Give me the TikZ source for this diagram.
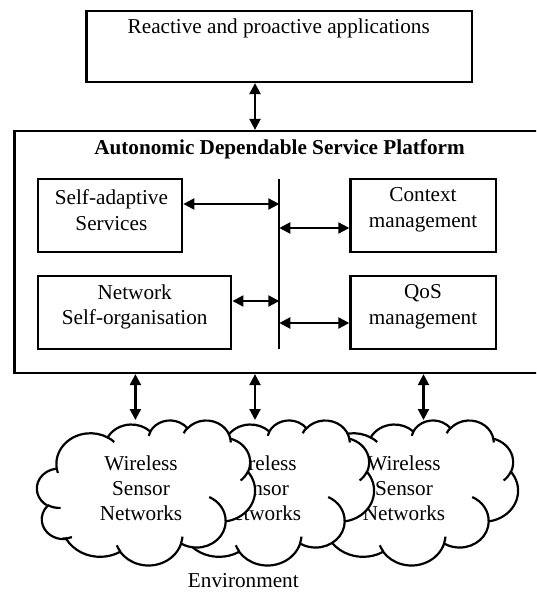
\documentclass[tikz,border=0pt]{standalone}
\usepackage{fontspec}
\setmainfont{Liberation Serif}
\usetikzlibrary{arrows.meta}
% OOXML-style arcs (visual angles) converted to TikZ parametric arcs
\newcommand{\defarc}[5]{%
  \pgfmathsetmacro\tmpS{atan2(#2*sin(#4), #3*cos(#4))}%
  \pgfmathsetmacro\tmpE{atan2(#2*sin(#4+#5), #3*cos(#4+#5))}%
  \pgfmathsetmacro\tmpD{mod(\tmpE-\tmpS+720,360)}%
  \edef\tmpdo{\noexpand\tikzset{#1/.style={start angle=\tmpS, delta angle=\tmpD, x radius=#2, y radius=#3}}}%
  \tmpdo}
\defarc{cAa}{6.753}{9.190}{-190.4875}{123.7805}
\defarc{cAb}{5.333}{7.267}{-144.1024}{89.9452}
\defarc{cAc}{4.365}{5.945}{-145.8079}{99.7230}
\defarc{cAd}{4.857}{6.595}{-130.9861}{117.2417}
\defarc{cAe}{5.333}{7.273}{-78.7089}{109.0269}
\defarc{cAf}{6.775}{9.220}{-46.2673}{130.2690}
\defarc{cAg}{5.785}{7.867}{0.6250}{114.0333}
\defarc{cAh}{6.752}{9.215}{22.4516}{115.1726}
\defarc{cAi}{7.720}{10.543}{66.2426}{75.7110}
\defarc{cAj}{4.360}{5.918}{-274.9421}{146.7356}
\defarc{cAk}{4.345}{5.945}{-246.8285}{152.5189}
\defarc{cBa}{4.345}{5.945}{86.7420}{26.4295}
\defarc{cBb}{4.360}{5.918}{73.6105}{18.4138}
\defarc{cBc}{6.752}{9.215}{137.6242}{14.0811}
\defarc{cBd}{6.752}{9.215}{6.4533}{15.9984}
\defarc{cBe}{5.785}{7.867}{-70.2924}{70.9174}
\defarc{cBf}{5.333}{7.273}{30.3180}{27.7515}
\defarc{cBg}{4.857}{6.595}{-13.7443}{14.8589}
\defarc{cBh}{4.857}{6.595}{-149.1815}{18.1954}
\defarc{cBi}{4.365}{5.945}{-163.4943}{17.6864}
\defarc{cBj}{6.753}{9.190}{-66.7070}{12.3194}
\defarc{cBk}{6.753}{9.190}{157.6544}{11.8582}
\newcommand{\wcloud}{%
  \filldraw[fill=white] (3.900,14.370) arc[cAa] arc[cAb] arc[cAc] arc[cAd] arc[cAe]
    arc[cAf] arc[cAg] arc[cAh] arc[cAi] arc[cAj] arc[cAk] -- cycle;
  \draw (4.693,26.177) arc[cBa] (6.928,34.899) arc[cBb] (16.478,39.090) arc[cBc]
    (28.827,34.751) arc[cBd] (34.129,22.954) arc[cBe] (41.798,15.354) arc[cBf]
    (38.324,5.426) arc[cBg] (29.078,3.952) arc[cBh] (22.141,4.720) arc[cBi]
    (14.000,5.192) arc[cBj] (4.127,15.789) arc[cBk];
}
\begin{document}
\begin{tikzpicture}[x=0.5pt, y=-0.5pt, line width=1.1pt,
  box/.style={draw, line width=1.1pt, inner sep=0pt, minimum height=36.5pt},
  biarrow/.style={line width=1.1pt, {Triangle[length=5.5pt,width=5.5pt]}-{Triangle[length=5.5pt,width=5.5pt]}},
  lbl/.style={font=\fontsize{10.6}{12.75}\selectfont, align=center, inner sep=0pt},
  cloudtxt/.style={font=\fontsize{10.6}{12.5}\selectfont, align=center, inner sep=0pt},
  cloudpos/.style={x=2.523pt, y=-1.678pt}]
\clip (0,0) rectangle (536,592);

% top box
\node[box, minimum width=192.6pt, minimum height=35.5pt] (app) at (279.1,46.5) {};
\node[lbl, anchor=base] (apptxt) at (278.7,34) {Reactive and proactive applications};

% platform
\node[box, minimum width=275pt, minimum height=121pt] (plat) at (289.4,252) {};
\node[lbl, font=\fontsize{10.6}{12.75}\selectfont\bfseries, anchor=base] (plattitle) at (279.5,155) {Autonomic Dependable Service Platform};

\coordinate (tx) at (255,0);
\draw[biarrow] (app.south -| tx) -- (plat.north -| tx);

% inner boxes
\node[box, minimum width=72pt] (sa) at (110.25,215.5) {};
\node[lbl] (satxt) at (111.4,210) {Self-adaptive\\Services};
\node[box, minimum width=96.5pt] (ns) at (134.85,312.5) {};
\node[lbl] (nstxt) at (134.7,307) {Network\\Self-organisation};
\node[box, minimum width=72.6pt] (cm) at (423,215.5) {};
\node[lbl] (cmtxt) at (423,210) {Context\\management};
\node[box, minimum width=72.6pt] (qm) at (423,312.5) {};
\node[lbl] (qmtxt) at (423,307) {QoS\\management};

% bus
\coordinate (bartop) at (279.3,179);
\coordinate (barbot) at (279.3,349);
\draw (bartop) -- (barbot);
\coordinate (r1) at (0,204);
\coordinate (r2) at (0,228);
\coordinate (r3) at (0,301);
\coordinate (r4) at (0,323);
\draw[biarrow] (sa.east |- r1) -- (bartop |- r1);
\draw[biarrow] (bartop |- r2) -- (cm.west |- r2);
\draw[biarrow] (ns.east |- r3) -- (bartop |- r3);
\draw[biarrow] (bartop |- r4) -- (qm.west |- r4);

% arrows to clouds
\coordinate (w1) at (135.4,420);
\coordinate (w2) at (255,420);
\coordinate (w3) at (423.5,420);
\draw[biarrow] (plat.south -| w1) -- (w1);
\draw[biarrow] (plat.south -| w2) -- (w2);
\draw[biarrow] (plat.south -| w3) -- (w3);

% clouds (back to front)
\begin{scope}[shift={(150pt,-210pt)}, cloudpos]
  \wcloud
\end{scope}
\node[cloudtxt] (wsn3) at (404,488) {Wireless\\Sensor\\Networks};
\begin{scope}[shift={(78pt,-210pt)}, cloudpos]
  \wcloud
\end{scope}
\node[cloudtxt] (wsn2) at (260,488) {Wireless\\Sensor\\Networks};
\begin{scope}[shift={(18.5pt,-210pt)}, cloudpos]
  \wcloud
\end{scope}
\node[cloudtxt] (wsn1) at (141,488) {Wireless\\Sensor\\Networks};

\node[lbl, anchor=base] (env) at (243.3,587) {Environment};
\end{tikzpicture}
\end{document}
